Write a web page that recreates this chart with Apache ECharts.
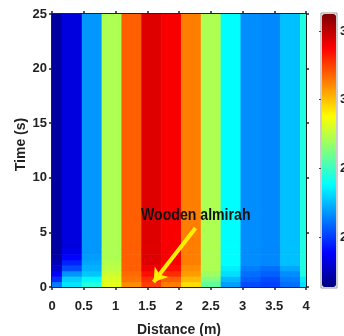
<!DOCTYPE html>
<html><head><meta charset="utf-8">
<script src="https://cdn.jsdelivr.net/npm/echarts@6/dist/echarts.min.js"></script>
<style>html,body{margin:0;padding:0;background:#fff}#c{width:344px;height:336px}</style>
</head><body><div id="c"></div>
<script>
// Column centres (m)
const distances = [0, 0.3125, 0.625, 0.9375, 1.25, 1.5625, 1.875, 2.1875, 2.5, 2.8125, 3.125, 3.4375, 3.75, 4.0625];
// Row edges (s): 0.5 s rows near the start, then steady to the top
const rowEdges = [0, 0.5, 1, 1.5, 2, 2.5, 3, 3.5, 25];
// Values per column (bottom row first)
const columnValues = [
  [21.3, 19.7, 18.7, 17.9, 17.4, 17.1, 17.0, 17.0],
  [23.3, 22.9, 21.7, 20.3, 19.5, 18.9, 18.5, 18.2],
  [24.5, 23.7, 22.7, 22.3, 22.1, 21.9, 21.8, 21.8],
  [28.3, 28.1, 27.8, 27.5, 27.3, 27.2, 27.2, 27.2],
  [31.0, 31.5, 31.7, 31.9, 31.9, 31.9, 31.9, 31.9],
  [32.5, 32.9, 33.5, 34.1, 34.4, 34.4, 34.4, 34.4],
  [31.3, 31.9, 32.9, 33.5, 33.9, 33.9, 33.9, 33.9],
  [29.4, 30.1, 30.7, 31.0, 31.3, 31.3, 31.3, 31.3],
  [25.7, 26.3, 26.9, 27.2, 27.2, 27.2, 27.2, 27.2],
  [21.9, 22.5, 23.2, 23.5, 23.8, 23.8, 23.8, 23.8],
  [20.3, 20.7, 21.0, 21.3, 21.6, 21.6, 21.6, 21.6],
  [20.1, 20.3, 20.7, 21.0, 21.5, 21.5, 21.5, 21.5],
  [21.0, 21.3, 21.6, 22.1, 22.6, 22.6, 22.6, 22.6],
  [23.2, 23.5, 24.4, 24.4, 24.4, 24.4, 24.4, 24.4]
];
const colorbarTicks = [20, 25, 30, 35];
const colorMin = 16.35, colorMax = 36.25;
const arrowStart = [2.26, 5.4], arrowEnd = [1.6, 0.45];
const annotation = 'Wooden almirah';
const jet = ['#00007F','#0000FF','#007FFF','#00FFFF','#7FFF7F','#FFFF00','#FF7F00','#FF0000','#7F0000'];

const data = [];
distances.forEach((d, c) => {
  for (let r = 0; r < rowEdges.length - 1; r++) {
    data.push([d, rowEdges[r], rowEdges[r + 1], columnValues[c][r]]);
  }
});
const halfW = (distances[1] - distances[0]) / 2;

const FONT = '"Liberation Sans", Arial, sans-serif';
const axisCommon = {
  type: 'value',
  axisLine: { show: true, onZero: false, lineStyle: { color: '#222', width: 2 } },
  axisTick: { show: true, length: 3, lineStyle: { color: '#222', width: 1.5 } },
  splitLine: { show: false },
  axisLabel: { fontSize: 13, fontWeight: 'bold', color: '#222', fontFamily: FONT }
};

const chart = echarts.init(document.getElementById('c'), null, { renderer: 'canvas' });
chart.setOption({
  animation: false,
  backgroundColor: '#fff',
  grid: [
    { left: 52, top: 14, width: 254, height: 273, outerBoundsMode: 'none' },
    { left: 321, top: 13, width: 16, height: 275, show: true, borderColor: '#999', borderWidth: 1, backgroundColor: 'transparent', outerBoundsMode: 'none' }
  ],
  xAxis: [
    Object.assign({}, axisCommon, { gridIndex: 0, position: 'bottom', min: 0, max: 4, interval: 0.5,
      axisLabel: Object.assign({}, axisCommon.axisLabel, { margin: 13 }),
      name: 'Distance (m)', nameLocation: 'middle', nameGap: 36, nameMoveOverlap: false,
      nameTextStyle: { fontSize: 14, fontWeight: 'bold', color: '#222', fontFamily: FONT } }),
    Object.assign({}, axisCommon, { gridIndex: 0, position: 'top', min: 0, max: 4, interval: 0.5, axisLabel: { show: false } }),
    { type: 'value', gridIndex: 1, min: 0, max: 1, show: false }
  ],
  yAxis: [
    Object.assign({}, axisCommon, { gridIndex: 0, position: 'left', min: 0, max: 25, interval: 5,
      axisLabel: Object.assign({}, axisCommon.axisLabel, { margin: 5 }),
      name: 'Time (s)', nameLocation: 'middle', nameGap: 24, nameMoveOverlap: false,
      nameTextStyle: { fontSize: 14, fontWeight: 'bold', color: '#222', fontFamily: FONT, padding: [0, 0, 0, 12] } }),
    Object.assign({}, axisCommon, { gridIndex: 0, position: 'right', min: 0, max: 25, interval: 5, axisLabel: { show: false } }),
    { type: 'value', gridIndex: 1, position: 'right', min: colorMin - 0.07, max: colorMax + 0.07,
      axisLine: { show: false }, splitLine: { show: false },
      axisTick: { show: true, inside: true, length: 2, customValues: colorbarTicks, lineStyle: { color: '#444' } },
      axisLabel: { customValues: colorbarTicks, margin: 3, fontSize: 13, fontWeight: 'bold', color: '#222', fontFamily: FONT, align: 'left', hideOverlap: false } }
  ],
  visualMap: {
    type: 'continuous', min: colorMin, max: colorMax, dimension: 3, seriesIndex: 0,
    calculable: false, left: 322, top: 14, itemWidth: 14, itemHeight: 273, padding: 0,
    inRange: { color: jet }, text: null
  },
  graphic: [{
    type: 'text', left: 141, top: 207, z: 100, scaleX: 0.83,
    style: { text: annotation, font: 'bold 17px "Liberation Sans", Arial, sans-serif', fill: '#111' }
  }],
  series: [{
    type: 'custom',
    xAxisIndex: 0, yAxisIndex: 0,
    encode: { x: 0, y: [1, 2] },
    data: data,
    renderItem: function (params, api) {
      const p0 = api.coord([api.value(0) - halfW, api.value(2)]);
      const p1 = api.coord([api.value(0) + halfW, api.value(1)]);
      const rect = echarts.graphic.clipRectByRect(
        { x: p0[0], y: p0[1], width: p1[0] - p0[0] + 0.6, height: p1[1] - p0[1] + 0.6 },
        { x: params.coordSys.x, y: params.coordSys.y, width: params.coordSys.width, height: params.coordSys.height });
      return rect && { type: 'rect', shape: rect, style: { fill: api.visual('color') } };
    },
    markLine: {
      silent: true, symbol: ['none', 'arrow'], symbolSize: 13,
      lineStyle: { color: '#FFF000', width: 4, type: 'solid' },
      label: { show: false },
      data: [[{ coord: arrowStart }, { coord: arrowEnd }]]
    }
  }]
});
</script></body></html>
